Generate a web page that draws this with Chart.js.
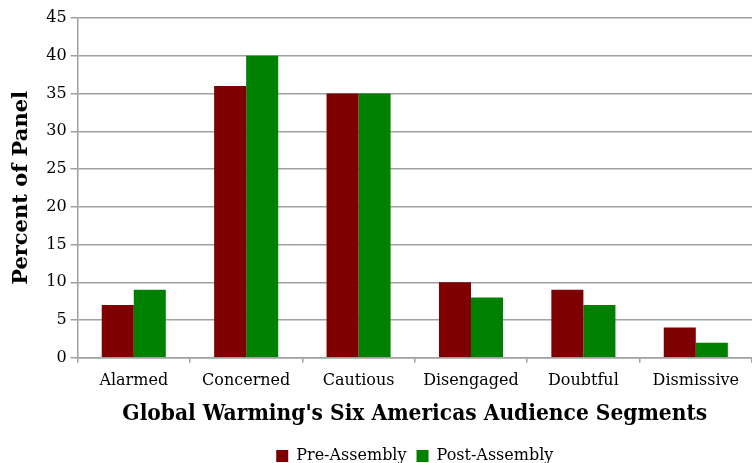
<!DOCTYPE html>
<html>
<head>
<meta charset="utf-8">
<script src="https://cdn.jsdelivr.net/npm/chart.js@4/dist/chart.umd.min.js"></script>
<style>
  html, body { margin: 0; padding: 0; background: #fff; }
  #wrap { width: 752px; height: 463px; }
</style>
</head>
<body>
<div id="wrap"><canvas id="segChart" width="752" height="463"></canvas></div>
<script>
const segments = ["Alarmed", "Concerned", "Cautious", "Disengaged", "Doubtful", "Dismissive"];
const preAssembly = [7, 36, 35, 10, 9, 4];
const postAssembly = [9, 40, 35, 8, 7, 2];
const yTicks = [0, 5, 10, 15, 20, 25, 30, 35, 40, 45];

const serif = "'DejaVu Serif', 'Liberation Serif', serif";
const gridGrey = "#a0a0a0";

const ctx = document.getElementById("segChart").getContext("2d");
const segChart = new Chart(ctx, {
  type: "bar",
  data: {
    labels: segments,
    datasets: [
      {
        label: "Pre-Assembly",
        data: preAssembly,
        backgroundColor: "#7f0000",
        barPercentage: 1,
        categoryPercentage: 0.57,
      },
      {
        label: "Post-Assembly",
        data: postAssembly,
        backgroundColor: "#008000",
        barPercentage: 1,
        categoryPercentage: 0.57,
      },
    ],
  },
  options: {
    responsive: false,
    animation: false,
    layout: { padding: { top: 18, right: 0, left: 9, bottom: -11 } },
    plugins: {
      tooltip: { enabled: false },
      legend: {
        position: "bottom",
        fullSize: false,
        labels: {
          boxWidth: 12,
          boxHeight: 12,
          padding: 10,
          color: "#000",
          font: { family: serif, size: 16 },
        },
      },
    },
    scales: {
      x: {
        grid: {
          offset: true,
          drawOnChartArea: false,
          color: gridGrey,
          tickLength: 5,
          lineWidth: 1.5,
        },
        border: { color: gridGrey, width: 1.5 },
        ticks: {
          color: "#000",
          padding: 8,
          font: { family: serif, size: 16 },
        },
        title: {
          display: true,
          text: "Global Warming's Six Americas Audience Segments",
          color: "#000",
          font: { family: "'DejaVu Serif Condensed', " + serif, size: 22.5, weight: "bold" },
          padding: { top: 3, bottom: 10 },
        },
      },
      y: {
        min: 0,
        max: 45,
        afterBuildTicks: (axis) => {
          axis.ticks = yTicks.map((v) => ({ value: v }));
        },
        grid: {
          color: gridGrey,
          lineWidth: 1.5,
          tickLength: 7,
        },
        border: { color: gridGrey, width: 1.5 },
        ticks: {
          color: "#000",
          padding: 4,
          font: { family: serif, size: 16 },
        },
        title: {
          display: true,
          text: "Percent of Panel",
          color: "#000",
          font: { family: serif, size: 21, weight: "bold" },
          padding: { top: 0, bottom: 8 },
        },
      },
    },
  },
});
</script>
</body>
</html>
